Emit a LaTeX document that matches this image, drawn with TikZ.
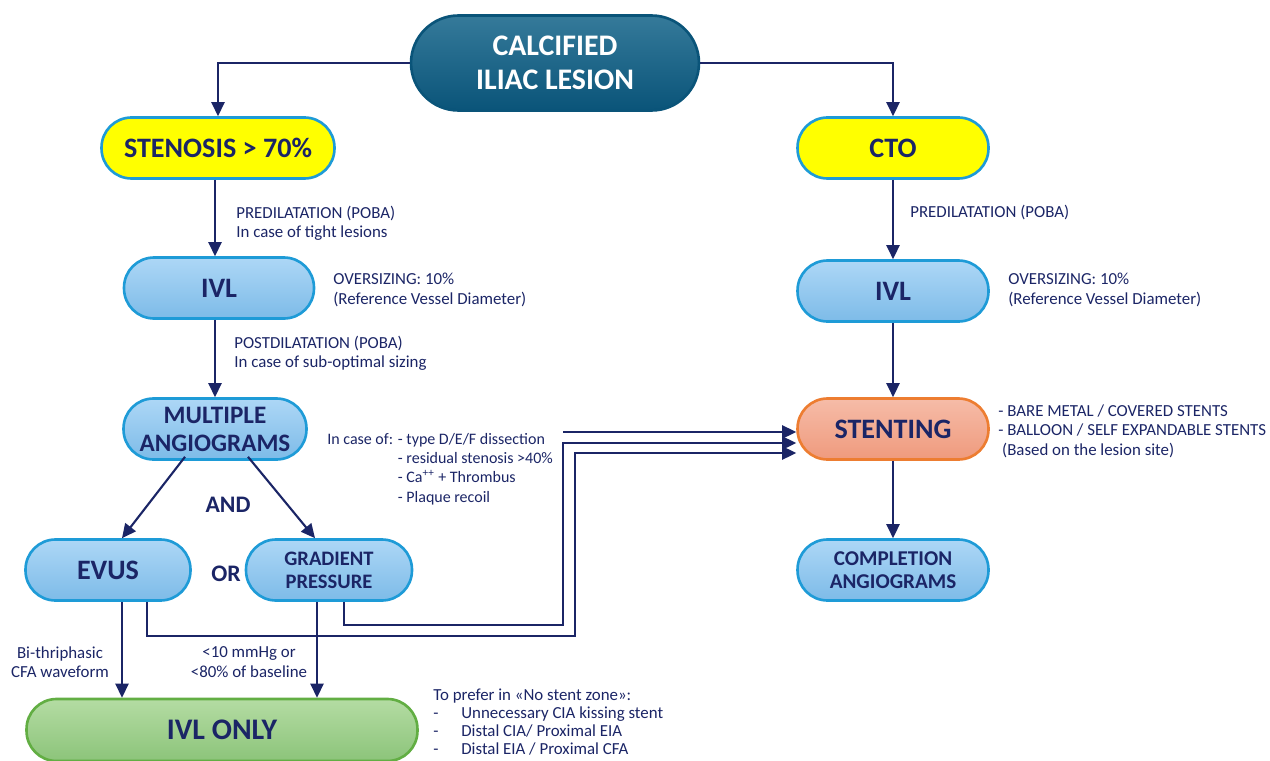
\documentclass[tikz,border=0pt]{standalone}
\usepackage{fontspec}
\setmainfont{Carlito}
\usetikzlibrary{arrows.meta,positioning,calc}
\definecolor{navy}{HTML}{1B2566}
\definecolor{rimblue}{HTML}{1E9BD7}
\definecolor{blueup}{HTML}{ADD7F6}
\definecolor{bluedown}{HTML}{7DBBE8}
\definecolor{rimorange}{HTML}{ED7D31}
\definecolor{orangeup}{HTML}{F6BCA8}
\definecolor{orangedown}{HTML}{EF9A7D}
\definecolor{rimgreen}{HTML}{62AE43}
\definecolor{greenup}{HTML}{B4DCA3}
\definecolor{greendown}{HTML}{8CC47A}
\definecolor{tealup}{HTML}{357A9A}
\definecolor{tealdown}{HTML}{0A5479}
\definecolor{signyellow}{HTML}{FFFF00}

\tikzset{
  pill/.style={draw=rimblue,line width=1.5pt,rounded corners=0.6cm,
    minimum height=1.22cm,align=center,text=navy,inner sep=2pt,
    font=\bfseries\fontsize{16}{18}\selectfont},
  bluepill/.style={pill,top color=blueup,bottom color=bluedown},
  yellowpill/.style={pill,fill=signyellow},
  flow/.style={navy,line width=1.2pt,-{Triangle[length=8pt,width=7.5pt]}},
  note/.style={text=navy,align=left,inner sep=0pt,
    font=\fontsize{9.6}{11}\selectfont},
  joiner/.style={text=navy,font=\bfseries\fontsize{13.5}{15}\selectfont}
}

\begin{document}
\begin{tikzpicture}[x=0.02cm,y=-0.02cm]
\useasboundingbox (0,0) rectangle (1270,760);

% Nodes, placed at the pixel centres of the reference.
\node[pill,draw=tealdown,top color=tealup,bottom color=tealdown,text=white,
  rounded corners=0.95cm,minimum width=5.76cm,minimum height=1.9cm,
  font=\bfseries\fontsize{17}{19.5}\selectfont]
  (lesion) at (555,63) {CALCIFIED\\ILIAC LESION};
\node[yellowpill,minimum width=4.66cm] (stenosis) at (218,148)
  {STENOSIS > 70\%};
\node[yellowpill,minimum width=3.82cm] (cto) at (893,148) {CTO};
\node[bluepill,minimum width=3.8cm] (ivlleft) at (219,288) {IVL};
\node[bluepill,minimum width=3.82cm] (ivlright) at (893,291) {IVL};
\node[bluepill,minimum width=3.66cm,font=\bfseries\fontsize{14.3}{16}\selectfont]
  (angio) at (215,429) {MULTIPLE\\ANGIOGRAMS};
\node[pill,draw=rimorange,top color=orangeup,bottom color=orangedown,
  minimum width=3.82cm] (stenting) at (893,429) {STENTING};
\node[bluepill,minimum width=3.3cm] (evus) at (108,570) {EVUS};
\node[bluepill,minimum width=3.32cm,font=\bfseries\fontsize{11.7}{13}\selectfont]
  (gradient) at (329,570) {GRADIENT\\PRESSURE};
\node[bluepill,minimum width=3.82cm,font=\bfseries\fontsize{12}{13}\selectfont]
  (completion) at (893,570) {COMPLETION\\ANGIOGRAMS};
\node[pill,draw=rimgreen,top color=greenup,bottom color=greendown,
  minimum width=7.82cm,minimum height=1.24cm,font=\bfseries\fontsize{17}{19}\selectfont]
  (ivlonly) at (222,730) {IVL ONLY};

\node[joiner] (and) at (228,505) {AND};
\node[joiner] (or) at (226,574) {OR};

% Annotations beside the connectors.
\node[note,anchor=west] (predilleft) at (236,223)
  {PREDILATATION (POBA)\\In case of tight lesions};
\node[note,anchor=west] (sizeleft) at (333,290)
  {OVERSIZING: 10\%\\(Reference Vessel Diameter)};
\node[note,anchor=west] (postdil) at (234,353)
  {POSTDILATATION (POBA)\\In case of sub-optimal sizing};
\node[note,anchor=west,font=\fontsize{9.1}{11}\selectfont] (reasons) at (327,469)
  {In case of: - type D/E/F dissection\\
   \hphantom{In case of: }- residual stenosis >40\%\\
   \hphantom{In case of: }- Ca\textsuperscript{++} + Thrombus\\
   \hphantom{In case of: }- Plaque recoil};
\node[note,anchor=west] (predilright) at (910,213) {PREDILATATION (POBA)};
\node[note,anchor=west] (sizeright) at (1008,290)
  {OVERSIZING: 10\%\\(Reference Vessel Diameter)};
\node[note,anchor=west] (stenttypes) at (998,431)
  {- BARE METAL / COVERED STENTS\\- BALLOON / SELF EXPANDABLE STENTS\\
   \ (Based on the lesion site)};
\node[note,align=center] (waveform) at (60,662)
  {Bi-thriphasic\\CFA waveform};
\node[note,align=center] (baseline) at (249,662)
  {<10 mmHg or\\<80\% of baseline};
\node[note,anchor=north west,font=\fontsize{9.6}{10.2}\selectfont] (nostent)
  at (433,689)
  {To prefer in «No stent zone»:\\
   \makebox[0.56cm][l]{-}Unnecessary CIA kissing stent\\
   \makebox[0.56cm][l]{-}Distal CIA/ Proximal EIA\\
   \makebox[0.56cm][l]{-}Distal EIA / Proximal CFA};

% Connectors
\draw[flow] (lesion.west) -| (stenosis.north);
\draw[flow] (lesion.east) -| (cto.north);
\draw[flow] ($(stenosis.south)+(-3,0)$) -- ($(ivlleft.north)+(-4,0)$);
\draw[flow] ($(ivlleft.south)+(-4,0)$) -- (angio.north);
\draw[flow] ($(angio.south)+(-30,-4)$) -- ($(evus.north)+(14,0)$);
\draw[flow] ($(angio.south)+(33,-4)$) -- ($(gradient.north)+(-14,0)$);
\coordinate (evusdown) at ($(evus.south)+(14,0)$);
\coordinate (graddown) at ($(gradient.south)+(-12,0)$);
\draw[flow] (evusdown) -- (evusdown |- ivlonly.north);
\draw[flow] (graddown) -- (graddown |- ivlonly.north);

% Three feeds into STENTING
\coordinate (dissect) at (563,432);
\coordinate (gradbend) at (563,625);
\coordinate (evusbend) at (575,636);
\draw[flow] (dissect) -- (dissect -| stenting.west);
\draw[flow] ($(gradient.south)+(15,0)$) |- (gradbend) -- ++(0,-182) coordinate (gradup)
  -- (gradup -| stenting.west);
\draw[flow] ($(evus.south)+(39,0)$) |- (evusbend) -- ++(0,-183) coordinate (evusup)
  -- (evusup -| stenting.west);

\draw[flow] (cto) -- (ivlright);
\draw[flow] (ivlright) -- (stenting);
\draw[flow] (stenting) -- (completion);
\end{tikzpicture}
\end{document}
